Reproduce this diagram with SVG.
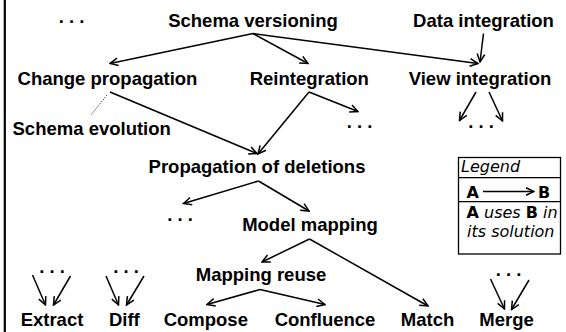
<svg xmlns="http://www.w3.org/2000/svg" width="566" height="332" viewBox="0 0 566 332">
  <style>
    .n { font-family: "Liberation Sans", Arial, sans-serif; font-weight: bold; font-size: 18.5px; fill: #000; text-anchor: middle; }
    .e { stroke: #000; stroke-width: 1.5; fill: none; marker-end: url(#arr); }
    .lg { font-family: "DejaVu Sans", Verdana, sans-serif; font-size: 16px; fill: #000; }
    .it { font-style: italic; }
    .b { font-weight: bold; }
  </style>
  <defs>
    <marker id="arr" viewBox="0 0 10 10" refX="9" refY="5" markerWidth="10" markerHeight="10" markerUnits="userSpaceOnUse" orient="auto">
      <path d="M1,1.2 L9,5 L1,8.8" fill="none" stroke="#000" stroke-width="1.5"/>
    </marker>
  </defs>
  <rect width="566" height="332" fill="#fff"/>
  <!-- page rule on the left -->
  <line x1="4.8" y1="0" x2="4.8" y2="332" stroke="#000" stroke-width="2.2"/>

  <g id="connectors">
    <line class="e" x1="253" y1="33.5" x2="110" y2="63.5"/>
    <line class="e" x1="253" y1="33.5" x2="308" y2="63.5"/>
    <line class="e" x1="253" y1="33.5" x2="478" y2="63.5"/>
    <line class="e" x1="483.5" y1="33.5" x2="480" y2="62"/>
    <line class="e" x1="110" y1="92" x2="257" y2="153.5"/>
    <line class="e" x1="309" y1="92" x2="258" y2="154"/>
    <line class="e" x1="309" y1="92" x2="358" y2="111.5"/>
    <line x1="107" y1="95" x2="91" y2="115" stroke="#000" stroke-width="1" stroke-dasharray="1 1.5"/>
    <line class="e" x1="476" y1="92" x2="459.5" y2="120.5"/>
    <line class="e" x1="489" y1="92" x2="502.5" y2="121"/>
    <line class="e" x1="258.5" y1="181" x2="183.5" y2="203.5"/>
    <line class="e" x1="258.5" y1="181" x2="309" y2="211"/>
    <line class="e" x1="309.5" y1="239" x2="262" y2="262"/>
    <line class="e" x1="309.5" y1="239" x2="428" y2="306"/>
    <line class="e" x1="260" y1="289.5" x2="207" y2="304.5"/>
    <line class="e" x1="260" y1="289.5" x2="325" y2="304.5"/>
    <line class="e" x1="32.5" y1="275" x2="45.5" y2="305"/>
    <line class="e" x1="70.5" y1="276" x2="53.5" y2="305"/>
    <line class="e" x1="106" y1="276" x2="118.5" y2="305"/>
    <line class="e" x1="144" y1="276" x2="126.5" y2="305"/>
    <line class="e" x1="490.5" y1="279" x2="504.5" y2="309"/>
    <line class="e" x1="529" y1="280" x2="511.5" y2="309.5"/>
  </g>

  <g id="dots-top"><text class="n" x="71.5" y="22.8">. . .</text></g>
  <g id="schema-versioning"><text class="n" x="253" y="27">Schema versioning</text></g>
  <g id="data-integration"><text class="n" x="483.5" y="27">Data integration</text></g>
  <g id="change-propagation"><text class="n" x="107.5" y="85">Change propagation</text></g>
  <g id="reintegration"><text class="n" x="309.3" y="85">Reintegration</text></g>
  <g id="view-integration"><text class="n" x="480" y="85">View integration</text></g>
  <g id="schema-evolution"><text class="n" x="91.7" y="135">Schema evolution</text></g>
  <g id="dots-reintegration"><text class="n" x="359.5" y="128">. . .</text></g>
  <g id="dots-view"><text class="n" x="481" y="127.5">. . .</text></g>
  <g id="propagation-of-deletions"><text class="n" x="257" y="173">Propagation of deletions</text></g>
  <g id="dots-propagation"><text class="n" x="180" y="220.6">. . .</text></g>
  <g id="model-mapping"><text class="n" x="310" y="231">Model mapping</text></g>
  <g id="mapping-reuse"><text class="n" x="261" y="281">Mapping reuse</text></g>
  <g id="dots-extract"><text class="n" x="52" y="273">. . .</text></g>
  <g id="dots-diff"><text class="n" x="126" y="273">. . .</text></g>
  <g id="dots-merge"><text class="n" x="508.5" y="276">. . .</text></g>
  <g id="extract"><text class="n" x="52" y="326">Extract</text></g>
  <g id="diff"><text class="n" x="124.3" y="326">Diff</text></g>
  <g id="compose"><text class="n" x="205.8" y="326">Compose</text></g>
  <g id="confluence"><text class="n" x="325" y="326">Confluence</text></g>
  <g id="match"><text class="n" x="427.5" y="326">Match</text></g>
  <g id="merge"><text class="n" x="506.5" y="326">Merge</text></g>

  <g id="legend">
    <rect x="458.5" y="157.5" width="102" height="96.5" fill="#fff" stroke="#000" stroke-width="1.3"/>
    <line x1="458.5" y1="177.7" x2="560.5" y2="177.7" stroke="#000" stroke-width="1.3"/>
    <line x1="458.5" y1="201.7" x2="560.5" y2="201.7" stroke="#000" stroke-width="1.3"/>
    <text class="lg it" x="461" y="172">Legend</text>
    <text class="lg b" x="466.5" y="197.5">A</text>
    <line class="e" x1="483" y1="191.5" x2="534" y2="191.5"/>
    <text class="lg b" x="538" y="197.5">B</text>
    <text class="lg" x="466.5" y="218"><tspan class="b">A</tspan> <tspan class="it">uses</tspan> <tspan class="b">B</tspan> <tspan class="it">in</tspan></text>
    <text class="lg it" x="467" y="236.5">its solution</text>
  </g>
</svg>
